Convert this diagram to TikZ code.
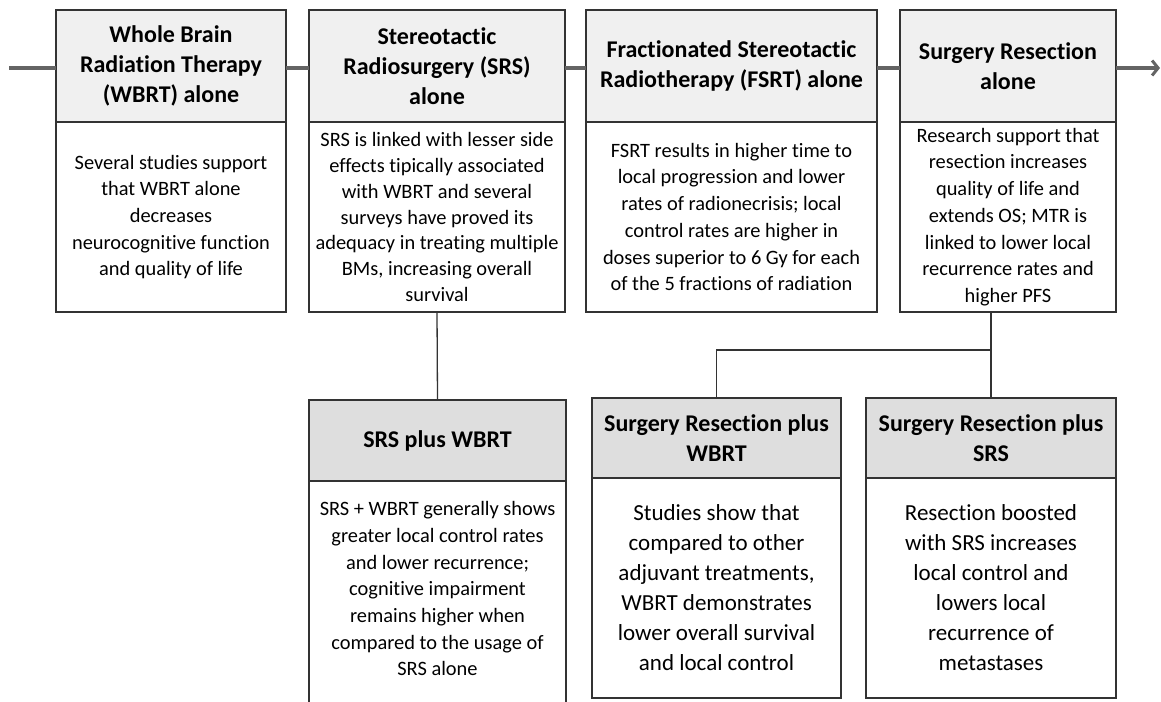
\documentclass[tikz,border=0pt]{standalone}
\usepackage{fontspec}
\setmainfont{Carlito}[Ligatures=CommonOff]
\usetikzlibrary{positioning,arrows.meta}
\definecolor{edge}{RGB}{51,51,51}
\definecolor{headlight}{RGB}{240,240,240}
\definecolor{headdark}{RGB}{222,222,222}
\definecolor{timeline}{RGB}{100,100,100}
\newcommand{\headfont}{\fontsize{24}{30}\selectfont\bfseries}
\newcommand{\bodyfont}{\fontsize{20.4}{26.7}\selectfont}
\newcommand{\tightbodyfont}{\fontsize{20.4}{25.7}\selectfont}
\newcommand{\bigbodyfont}{\fontsize{23}{30}\selectfont}
\tikzset{
  box/.style={
    draw=edge,
    line width=1.6pt,
    outer sep=0pt,
    inner sep=4pt,
    align=center
  },
  box-head/.style 2 args={
    box,
    fill=headlight,
    font=\headfont,
    minimum width=#1pt,
    minimum height=#2pt,
    anchor=north west
  },
  box-head-low/.style 2 args={box-head={#1}{#2}, fill=headdark},
  box-text/.style 2 args={
    box,
    fill=white,
    font=\bodyfont,
    minimum width=#1pt,
    minimum height=#2pt
  },
  box-text-big/.style 2 args={box-text={#1}{#2}, font=\bigbodyfont},
  timeline-line/.style={draw=timeline, line width=4.5pt},
  link/.style={draw=edge, line width=1.3pt}
}

\begin{document}
\begin{tikzpicture}[x=1pt, y=-1pt]
  \useasboundingbox (0,0) rectangle (1161,701);
  % Top row: single treatments
  \node[box-head={230}{112}] (wbrt) at (56,10) {Whole Brain\\Radiation Therapy\\(WBRT) alone};
  \node[box-text={230}{190}, below=0pt of wbrt] (wbrt-text) {Several studies support\\that WBRT alone\\decreases\\neurocognitive function\\and quality of life};

  \node[box-head={256}{112}] (srs) at (309,10) {Stereotactic\\Radiosurgery (SRS)\\alone};
  \node[box-text={256}{190}, font=\tightbodyfont, below=0pt of srs] (srs-text) {SRS is linked with lesser side\\effects tipically associated\\with WBRT and several\\surveys have proved its\\adequacy in treating multiple\\BMs, increasing overall\\survival};

  \node[box-head={291}{112}] (fsrt) at (586,10) {Fractionated Stereotactic\\Radiotherapy (FSRT) alone};
  \node[box-text={291}{190}, below=0pt of fsrt] (fsrt-text) {FSRT results in higher time to\\local progression and lower\\rates of radionecrisis; local\\control rates are higher in\\doses superior to 6 Gy for each\\of the 5 fractions of radiation};

  \node[box-head={216}{112}] (surg) at (900,10) {Surgery Resection\\alone};
  \node[box-text={216}{190}, below=0pt of surg] (surg-text) {Research support that\\resection increases\\quality of life and\\extends OS; MTR is\\linked to lower local\\recurrence rates and\\higher PFS};

  % Bottom row: combined treatments
  \node[box-head-low={257}{81}] (srs-wbrt) at (309,400) {SRS plus WBRT};
  \node[box-text={257}{229}, below=0pt of srs-wbrt] (srs-wbrt-text) {SRS + WBRT generally shows\\greater local control rates\\and lower recurrence;\\cognitive impairment\\remains higher when\\compared to the usage of\\SRS alone\\[-13pt]\mbox{}};

  \node[box-head-low={249}{80}] (surg-wbrt) at (592,398) {Surgery Resection plus\\WBRT};
  \node[box-text-big={249}{220}, below=0pt of surg-wbrt] (surg-wbrt-text) {Studies show that\\compared to other\\adjuvant treatments,\\WBRT demonstrates\\lower overall survival\\and local control};

  \node[box-head-low={250}{80}] (surg-srs) at (866,398) {Surgery Resection plus\\SRS};
  \node[box-text-big={250}{220}, below=0pt of surg-srs] (surg-srs-text) {Resection boosted\\with SRS increases\\local control and\\lowers local\\recurrence of\\metastases};

  % Timeline
  \coordinate (t-start) at (9,68);
  \coordinate (t-end) at (1160,68);
  \draw[timeline-line] (t-start) -- ([yshift=-2pt]wbrt.west);
  \draw[timeline-line] ([yshift=-2pt]wbrt.east) -- ([yshift=-2pt]srs.west);
  \draw[timeline-line] ([yshift=-2pt]srs.east) -- ([yshift=-2pt]fsrt.west);
  \draw[timeline-line] ([yshift=-2pt]fsrt.east) -- ([yshift=-2pt]surg.west);
  \draw[timeline-line, -{Straight Barb[length=6pt, width=15pt, line width=3pt]}] ([yshift=-2pt]surg.east) -- (t-end);

  % Links
  \coordinate (split) at (surg-srs.north |- 0,350);
  \draw[link] (srs-text.south) -- (srs-wbrt.north);
  \draw[link] (surg-srs.north) -- (surg-srs.north |- surg-text.south);
  \draw[link] (surg-wbrt.north) |- (split);
\end{tikzpicture}
\end{document}
